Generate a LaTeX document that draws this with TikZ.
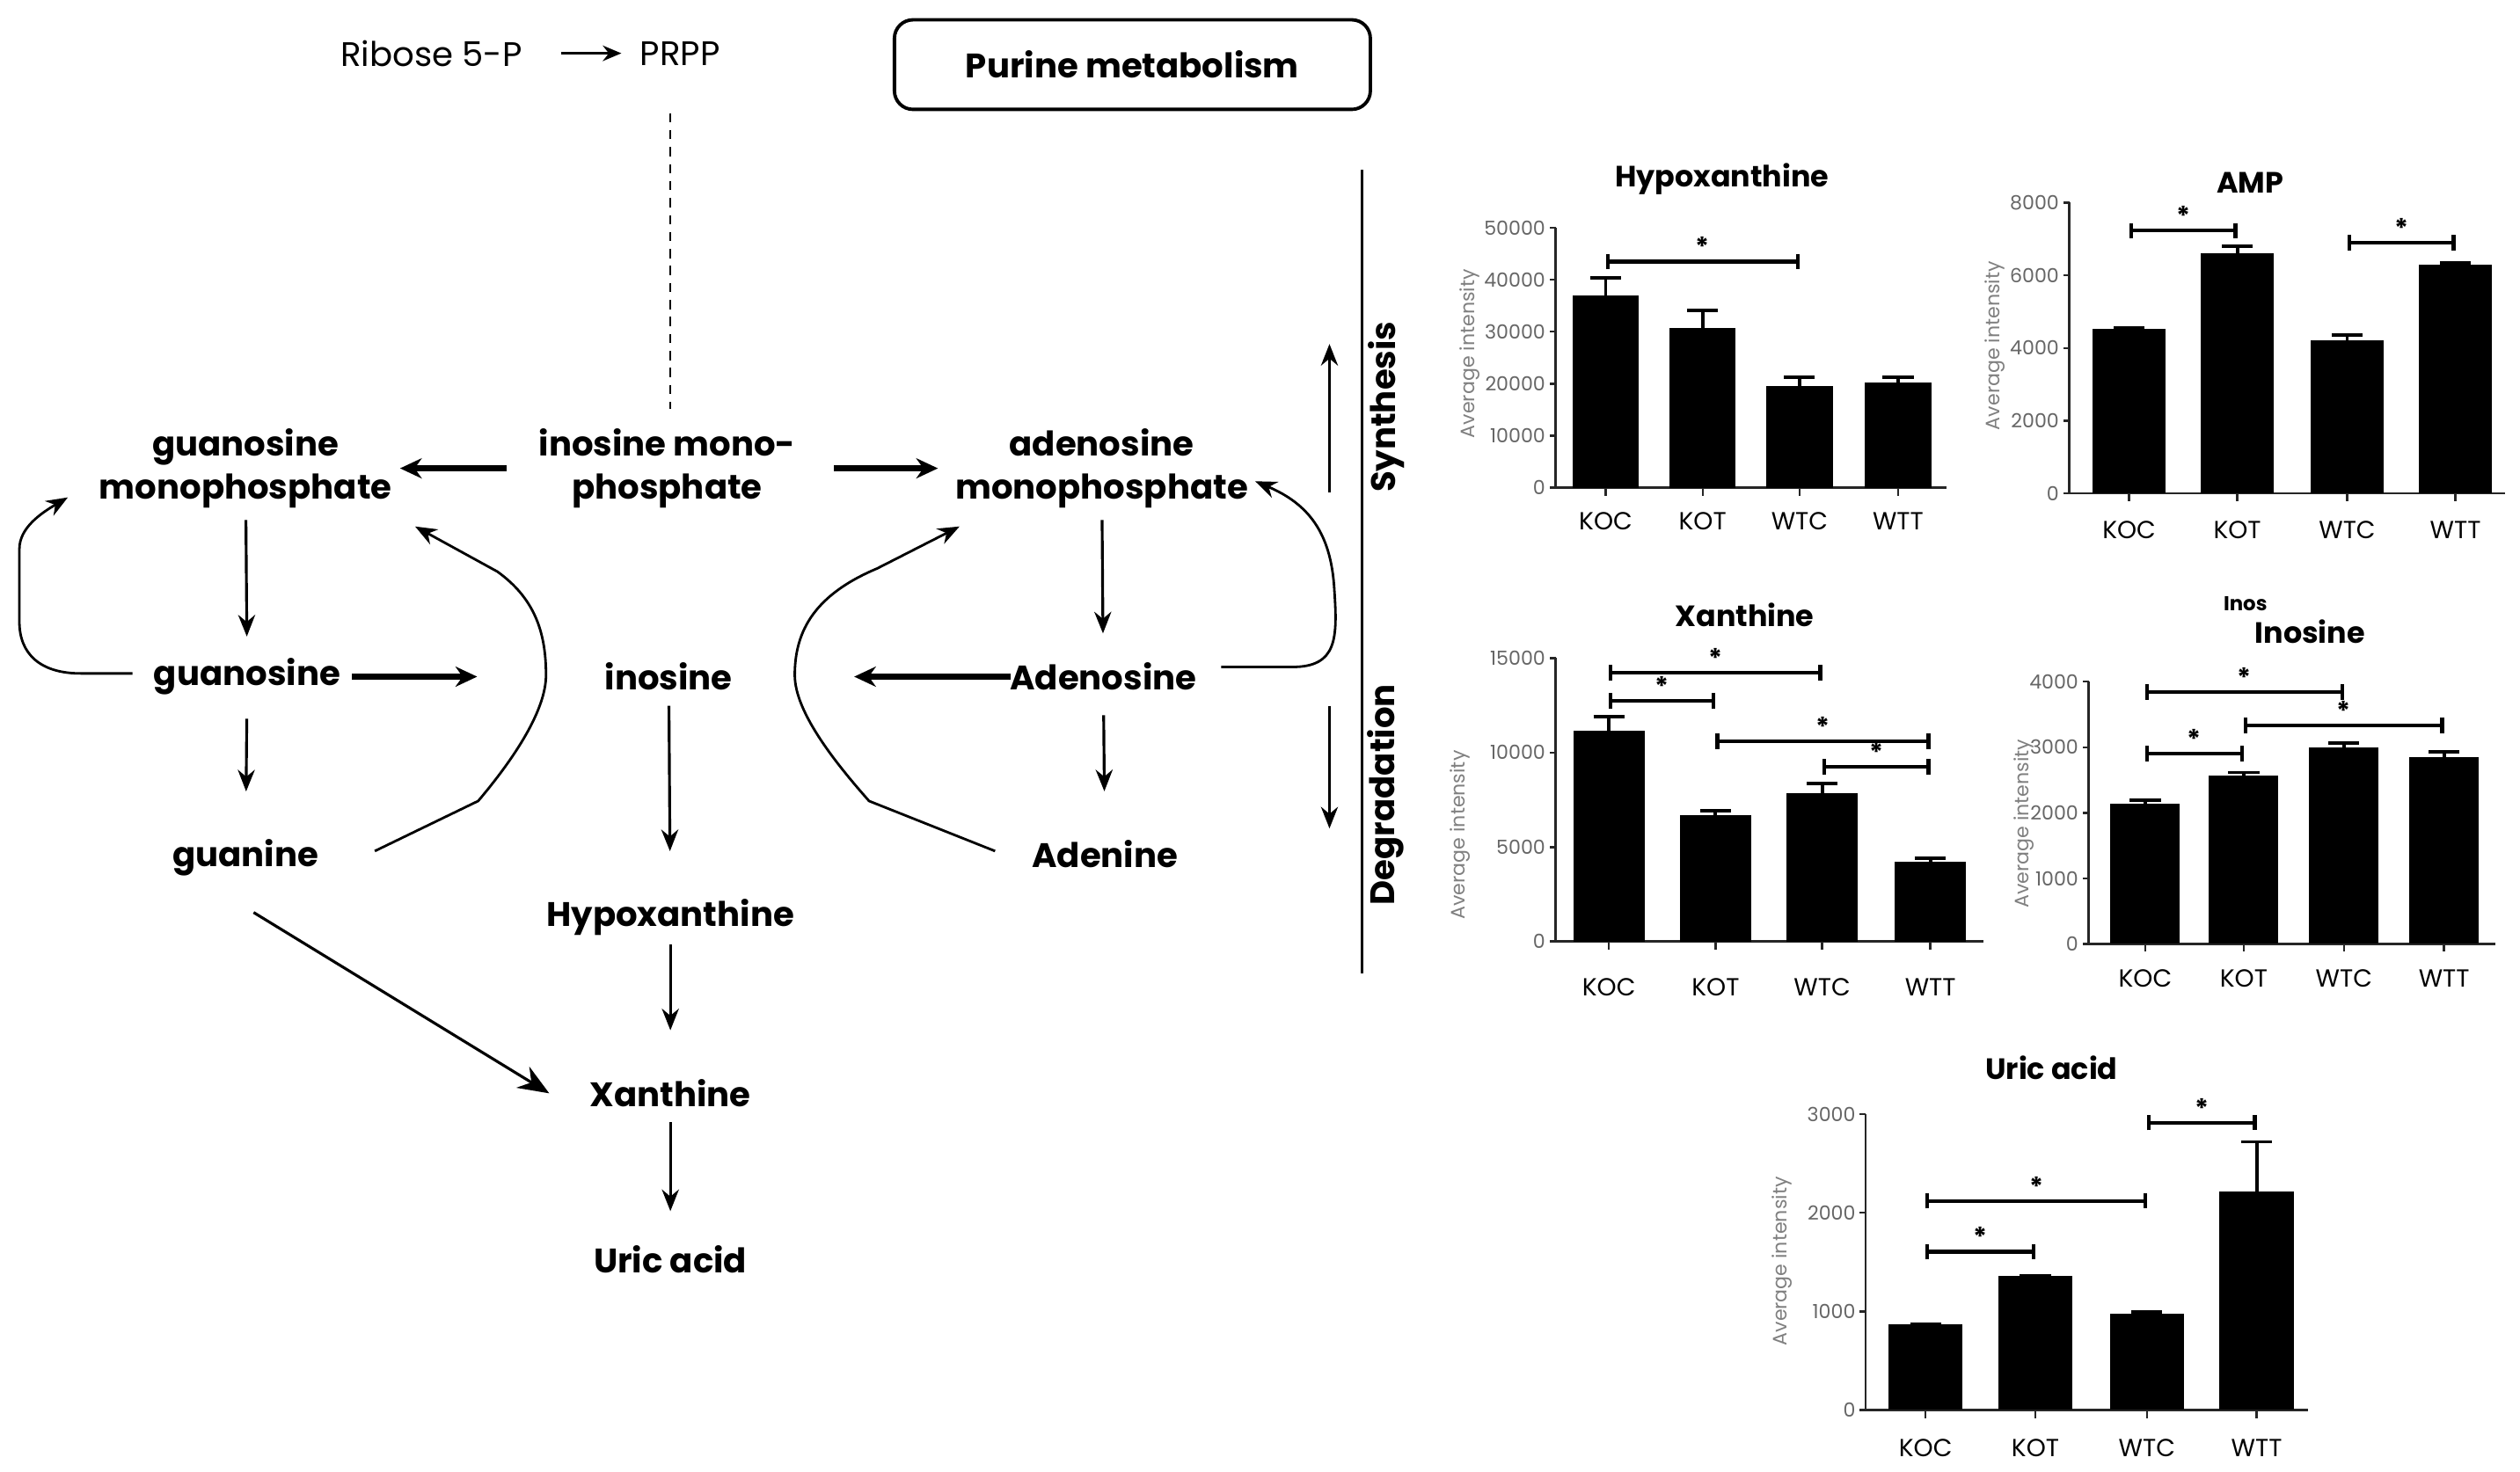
\documentclass[tikz,border=0pt]{standalone}
\usepackage{fontspec}
\setmainfont{Poppins}
\usetikzlibrary{arrows.meta,calc}

\begin{document}
\begin{tikzpicture}[x=0.018365cm, y=0.018365cm,
	met/.style={font=\bfseries\fontsize{11}{14}\selectfont, align=center, inner sep=1pt},
	lite/.style={font=\fontsize{11}{14}\selectfont, inner sep=1pt},
	arr/.style={-{Stealth[length=7pt,width=5.5pt]}, line width=0.9pt},
	thk/.style={-{Stealth[length=7pt,width=6.5pt]}, line width=1.8pt},
	curv/.style={-{Stealth[length=7pt,width=5.5pt]}, line width=0.8pt},
	ctitle/.style={font=\bfseries\fontsize{9.5}{11}\selectfont},
	ylab/.style={font=\fontsize{6.3}{7}\selectfont, text=gray, rotate=90},
	ytick/.style={font=\fontsize{6.3}{7}\selectfont, text=gray!80!black, left, inner sep=1pt},
	xlab/.style={font=\fontsize{8}{9}\selectfont},
	axis/.style={line width=0.7pt, draw=black!85},
	ebar/.style={line width=1.1pt},
	sig/.style={{Bar[width=5pt]}-{Bar[width=5pt]}, line width=1.2pt},
	star/.style={midway, above, inner sep=1pt, font=\bfseries\fontsize{8.5}{9}\selectfont}]
	\useasboundingbox (0,0) rectangle (1560,-911);
	\node[lite] (rib) at (267,-33) {Ribose 5-P};
	\node[lite] (prpp) at (421,-33) {PRPP};
	\node[met, draw, rounded corners=6pt, line width=1.1pt, minimum width=154pt, minimum height=29pt] (pm) at (701,-40) {Purine metabolism};
	\node[met] (imp) at (413,-290) {inosine mono-\\phosphate};
	\node[met] (gmp) at (152,-290) {guanosine\\monophosphate};
	\node[met] (amp) at (682,-290) {adenosine\\monophosphate};
	\node[met] (gsn) at (153,-419) {guanosine};
	\node[met] (ino) at (414,-419) {inosine};
	\node[met] (ads) at (683,-419) {Adenosine};
	\node[met] (gua) at (152,-531) {guanine};
	\node[met] (ade) at (684,-529) {Adenine};
	\node[met] (hyp) at (415,-568) {Hypoxanthine};
	\node[met] (xan) at (415,-677) {Xanthine};
	\node[met] (uric) at (415,-780) {Uric acid};
	\node[met, rotate=90] (syn) at (858,-252) {Synthesis};
	\node[met, rotate=90] (deg) at (858,-492) {Degradation};

	\draw[-{Stealth[length=6pt,width=5pt]}, line width=0.9pt, shorten <=42pt, shorten >=19pt] (rib.center) -- (prpp.center);
	\draw[dashed, dash pattern=on 3pt off 2.5pt, line width=0.6pt] ($(prpp.center)+(-6,-37)$) -- ($(imp.center)+(2,37)$);
	\draw[thk, shorten <=52pt, shorten >=50pt] (imp.center) -- (gmp.center);
	\draw[thk, shorten <=54pt, shorten >=53pt] (imp.center) -- (amp.center);
	\draw[arr, shorten <=16.7pt, shorten >=13pt] (gmp.center) -- (gsn.center);
	\draw[arr, shorten <=13.6pt, shorten >=21.4pt] (gsn.center) -- (gua.center);
	\draw[thk, shorten <=34pt, shorten >=62pt] (gsn.center) -- (ino.center);
	\draw[thk, shorten <=30pt, shorten >=60pt] (ads.center) -- (ino.center);
	\draw[arr, shorten <=16.7pt, shorten >=14pt] (amp.center) -- (ads.center);
	\draw[arr, shorten <=12.5pt, shorten >=20.4pt] (ads.center) -- (ade.center);
	\draw[arr, shorten <=9.4pt, shorten >=21.4pt] (ino.center) -- (hyp.center);
	\draw[arr, shorten <=8.9pt, shorten >=20.4pt] (hyp.center) -- (xan.center);
	\draw[arr, shorten <=9.4pt, shorten >=15.7pt] (xan.center) -- (uric.center);
	\draw[-{Stealth[length=10pt,width=8pt]}, line width=0.9pt] ($(gua)+(5,-34)$) -- ($(xan)+(-75,0)$);
	\draw[curv] ($(gsn)+(-71,2)$) -- (50,-417) .. controls (25,-417) and (12,-405) .. (12,-385) -- (12,-340) .. controls (12,-327) and (25,-318) .. ($(gmp)+(-110,-18)$);
	\draw[curv] ($(ads)+(73,6)$) -- (800,-413) .. controls (828,-413) and (828,-395) .. (826,-365) .. controls (824,-330) and (810,-312) .. ($(amp)+(95,-8)$);
	\draw[curv] ($(gua)+(80,4)$) -- (296,-496) .. controls (318,-470) and (338,-440) .. (338,-418) .. controls (338,-390) and (330,-370) .. (308,-354) -- ($(gmp)+(105,-36)$);
	\draw[curv] ($(ade)+(-68,2)$) -- (538,-496) .. controls (515,-470) and (492,-440) .. (492,-418) .. controls (492,-390) and (505,-368) .. (543,-352) -- ($(amp)+(-88,-36)$);
	\draw[line width=0.8pt] (843,-105) -- (843,-603);
	\draw[arr, line width=0.8pt] ($(syn)+(-35,-53)$) -- ($(syn)+(-35,39)$);
	\draw[arr, line width=0.8pt] ($(deg)+(-35,55)$) -- ($(deg)+(-35,-21)$);

	\node[ctitle] (thyp) at (1066,-111) {Hypoxanthine};
	\node[ylab] (yhyp) at (910,-219) {Average intensity};
	\begin{scope}[shift={(0,-302)}, yscale=3.22]
		\draw[axis] (963,50) -- (963,0) -- (1205,0);
		\foreach \t/\l in {0/0,10/10000,20/20000,30/30000,40/40000,50/50000}
			\draw[axis] (963,\t) -- ([xshift=-2pt]963,\t) node[ytick] (hyt\t) {\l};
		\foreach \cx/\v/\e/\n in {994/36.9/40.3/KOC,1054/30.7/34.1/KOT,1114/19.5/21.3/WTC,1175/20.2/21.3/WTT}{
			\fill ({\cx-20.5},0) rectangle ({\cx+20.5},\v);
			\draw[ebar] (\cx,\v) -- (\cx,\e) ([xshift=-5pt]\cx,\e) -- ([xshift=5pt]\cx,\e);
			\draw[axis] (\cx,0) -- (\cx,-1.55);
			\node[xlab] (hx\n) at (\cx,-6.5) {\n};
		}
		\draw[sig] (994,43.5) -- node[star] {*} (1114,43.5);
	\end{scope}

	\node[ctitle] (tamp) at (1393,-113) {AMP};
	\node[ylab] (yamp) at (1235,-214) {Average intensity};
	\begin{scope}[shift={(0,-305.5)}, yscale=22.5]
		\draw[axis] (1281,8) -- (1281,0) -- (1551,0);
		\foreach \t/\l in {0/0,2/2000,4/4000,6/6000,8/8000}
			\draw[axis] (1281,\t) -- ([xshift=-2pt]1281,\t) node[ytick] (amt\t) {\l};
		\foreach \cx/\v/\e/\n in {1318/4.52/4.56/KOC,1385/6.62/6.80/KOT,1453/4.22/4.36/WTC,1520/6.29/6.34/WTT}{
			\fill ({\cx-22.5},0) rectangle ({\cx+22.5},\v);
			\draw[ebar] (\cx,\v) -- (\cx,\e) ([xshift=-5pt]\cx,\e) -- ([xshift=5pt]\cx,\e);
			\draw[axis] (\cx,0) -- (\cx,-0.22);
			\node[xlab] (ax\n) at (\cx,-1.0) {\n};
		}
		\draw[sig] (1318,7.23) -- node[star] {*} (1385,7.23);
		\draw[sig] (1453,6.90) -- node[star] {*} (1520,6.90);
	\end{scope}

	\node[ctitle] (txan) at (1080,-381) {Xanthine};
	\node[ylab] (yxan) at (904,-517) {Average intensity};
	\begin{scope}[shift={(0,-583)}, yscale=11.7]
		\draw[axis] (963,15) -- (963,0) -- (1228,0);
		\foreach \t/\l in {0/0,5/5000,10/10000,15/15000}
			\draw[axis] (963,\t) -- ([xshift=-2pt]963,\t) node[ytick] (xat\t) {\l};
		\foreach \cx/\v/\e/\n in {996/11.17/11.9/KOC,1062/6.67/6.93/KOT,1128/7.83/8.38/WTC,1195/4.22/4.41/WTT}{
			\fill ({\cx-22},0) rectangle ({\cx+22},\v);
			\draw[ebar] (\cx,\v) -- (\cx,\e) ([xshift=-5pt]\cx,\e) -- ([xshift=5pt]\cx,\e);
			\draw[axis] (\cx,0) -- (\cx,-0.43);
			\node[xlab] (xx\n) at (\cx,-2.44) {\n};
		}
		\draw[sig] (996,14.22) -- node[star] {*} (1128,14.22);
		\draw[sig] (996,12.75) -- node[star] {*} (1062,12.75);
		\draw[sig] (1062,10.61) -- node[star] {*} (1195,10.61);
		\draw[sig] (1128,9.26) -- node[star] {*} (1195,9.26);
	\end{scope}

	\node[ctitle, font=\bfseries\fontsize{6.5}{7}\selectfont] (tinos) at (1390,-374) {Inos};
	\node[ctitle] (tino) at (1430,-391) {Inosine};
	\node[ylab] (yino) at (1253,-510) {Average intensity};
	\begin{scope}[shift={(0,-584.5)}, yscale=40.6]
		\draw[axis] (1293,4) -- (1293,0) -- (1545,0);
		\foreach \t/\l in {0/0,1/1000,2/2000,3/3000,4/4000}
			\draw[axis] (1293,\t) -- ([xshift=-2pt]1293,\t) node[ytick] (int\t) {\l};
		\foreach \cx/\v/\e/\n in {1328/2.145/2.19/KOC,1389/2.57/2.614/KOT,1451/2.994/3.061/WTC,1513/2.847/2.927/WTT}{
			\fill ({\cx-21.5},0) rectangle ({\cx+21.5},\v);
			\draw[ebar] (\cx,\v) -- (\cx,\e) ([xshift=-5pt]\cx,\e) -- ([xshift=5pt]\cx,\e);
			\draw[axis] (\cx,0) -- (\cx,-0.12);
			\node[xlab] (ix\n) at (\cx,-0.53) {\n};
		}
		\draw[sig] (1328,3.844) -- node[star] {*} (1451,3.844);
		\draw[sig] (1328,2.905) -- node[star] {*} (1389,2.905);
		\draw[sig] (1389,3.33) -- node[star] {*} (1513,3.33);
	\end{scope}

	\node[ctitle] (turi) at (1270,-661) {Uric acid};
	\node[ylab] (yuri) at (1103,-781) {Average intensity};
	\begin{scope}[shift={(0,-873)}, yscale=61]
		\draw[axis] (1155,3) -- (1155,0) -- (1429,0);
		\foreach \t/\l in {0/0,1/1000,2/2000,3/3000}
			\draw[axis] (1155,\t) -- ([xshift=-2pt]1155,\t) node[ytick] (urt\t) {\l};
		\foreach \cx/\v/\e/\n in {1192/0.87/0.87/KOC,1260/1.356/1.356/KOT,1329/0.975/0.996/WTC,1397/2.22/2.721/WTT}{
			\fill ({\cx-23},0) rectangle ({\cx+23},\v);
			\draw[ebar] (\cx,\v) -- (\cx,\e) ([xshift=-5pt]\cx,\e) -- ([xshift=5pt]\cx,\e);
			\draw[axis] (\cx,0) -- (\cx,-0.082);
			\node[xlab] (ux\n) at (\cx,-0.39) {\n};
		}
		\draw[sig] (1192,1.605) -- node[star] {*} (1260,1.605);
		\draw[sig] (1192,2.121) -- node[star] {*} (1329,2.121);
		\draw[sig] (1329,2.916) -- node[star] {*} (1397,2.916);
	\end{scope}
\end{tikzpicture}
\end{document}
